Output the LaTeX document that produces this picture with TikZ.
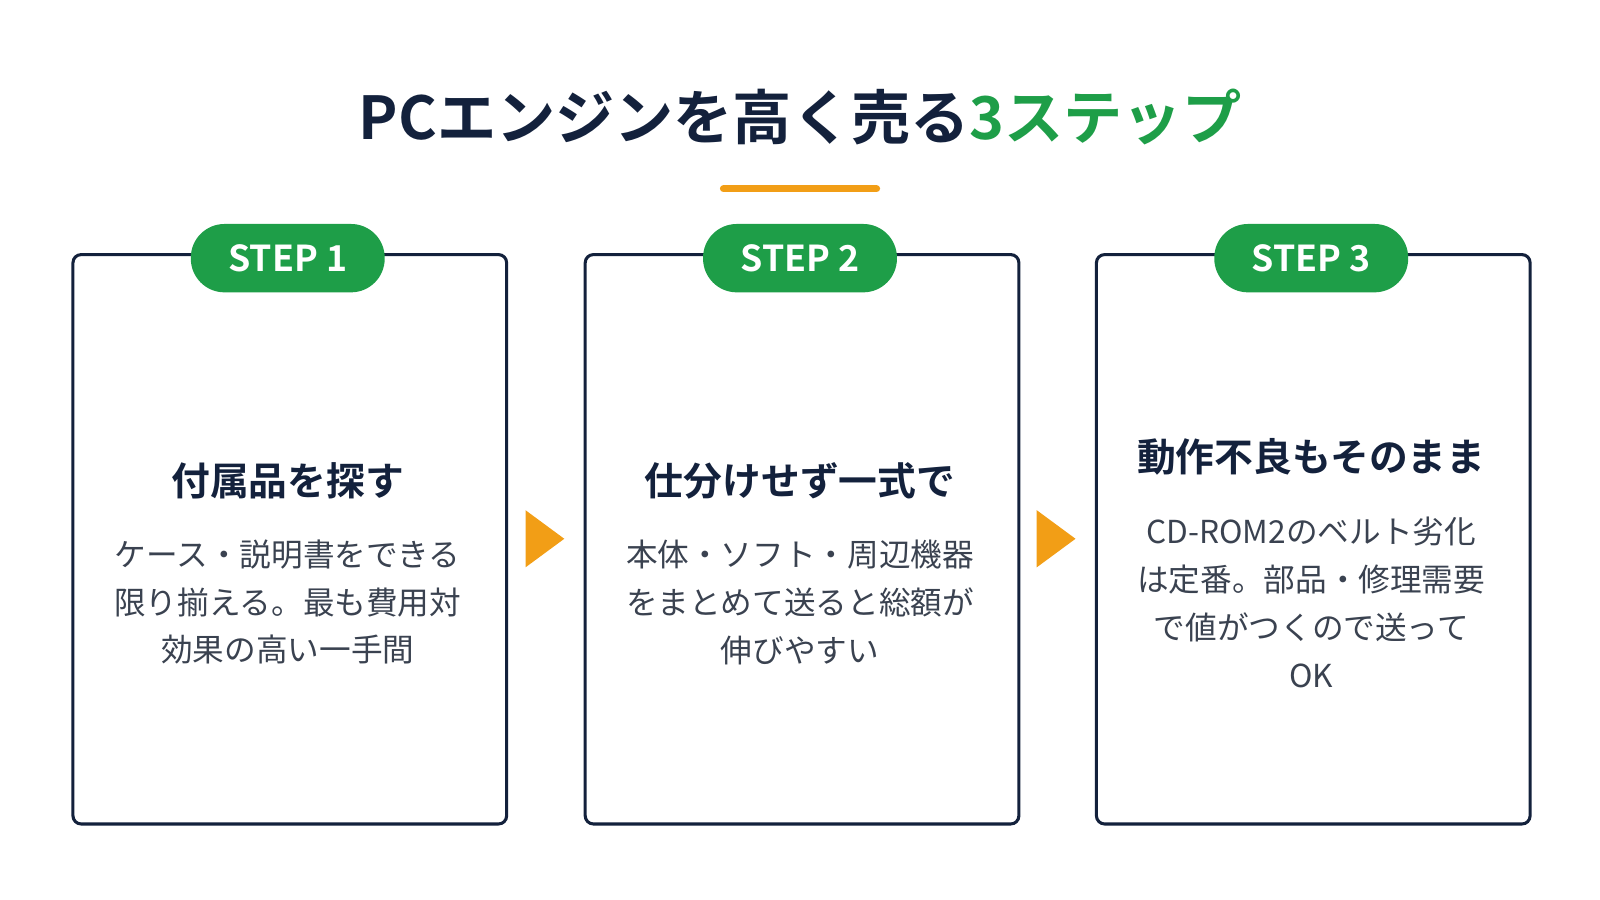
\documentclass[tikz,border=0pt]{standalone}
\usepackage{fontspec}
\setmainfont{Noto Sans CJK JP}
\newfontfamily\jpb{Noto Sans CJK JP Bold}
\definecolor{navy}{HTML}{13213C}
\definecolor{grn}{HTML}{1E9E48}
\definecolor{org}{HTML}{F29E16}
\definecolor{txt}{HTML}{3A4250}
\begin{document}
\begin{tikzpicture}[x=1pt,y=-1pt,
 box/.style={draw=navy,line width=3pt,rounded corners=8pt,minimum width=425pt,minimum height=558pt,anchor=north west,inner sep=0},
 pill/.style={fill=grn,rounded corners=33pt,minimum width=190pt,minimum height=67pt,text=white,font=\jpb\fontsize{35}{35}\selectfont,inner sep=0},
 head/.style={text=navy,font=\jpb\fontsize{38}{38}\selectfont,align=center},
 body/.style={text=txt,font=\fontsize{31}{47}\selectfont,align=center},
 tri/.style={fill=org}]
\useasboundingbox (0,0) rectangle (1568,882);
\node[text=navy,font=\jpb\fontsize{58}{58}\selectfont] (title) at (784,115) {PCエンジンを高く売る\textcolor{grn}{3ステップ}};
\draw[org,line width=7pt,line cap=round] (709,185) -- (859,185);
\foreach \i/\x/\s in {1/70/1,2/572/2,3/1073/3}{
 \node[box] (b\i) at (\x,248) {};
 \node[pill] (p\i) at (\x+212,253) {STEP \s};
}
\node[head] (h1) at (282,471) {付属品を探す};
\node[body] (t1) at (282,590) {ケース・説明書をできる\\限り揃える。最も費用対\\効果の高い一手間};
\node[head] (h2) at (784,471) {仕分けせず一式で};
\node[body] (t2) at (784,590) {本体・ソフト・周辺機器\\をまとめて送ると総額が\\伸びやすい};
\node[head] (h3) at (1285,448) {動作不良もそのまま};
\node[body] (t3) at (1285,590) {CD-ROM2のベルト劣化\\は定番。部品・修理需要\\で値がつくので送って\\OK};
\coordinate (a1) at (515,500); \coordinate (a2) at (1016,500);
\foreach \a in {a1,a2}{\fill[org] (\a) -- ++(38,28) -- ++(-38,28) -- cycle;}
\end{tikzpicture}
\end{document}
